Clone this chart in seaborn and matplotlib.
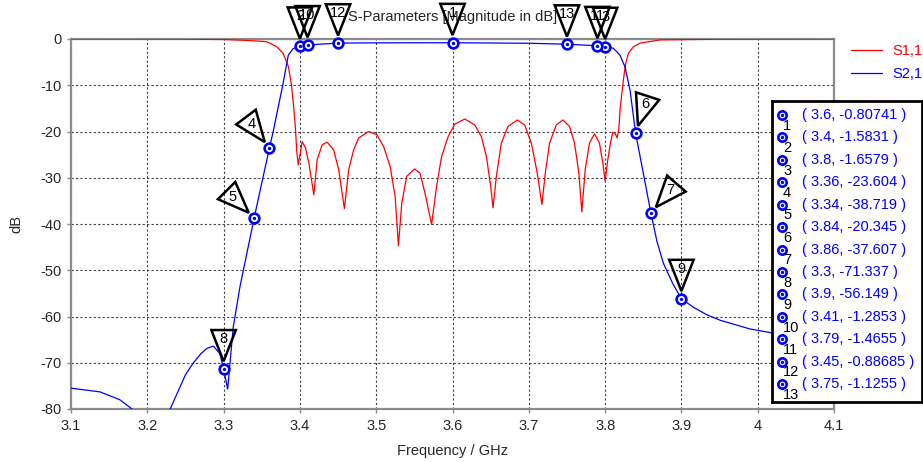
import numpy as np
import matplotlib

matplotlib.use("Agg")
import matplotlib.pyplot as plt
import seaborn as sns
from matplotlib.patches import Polygon
from matplotlib.transforms import ScaledTranslation

# S1,1 (GHz, dB)
s11_freq = [3.1, 3.2, 3.25, 3.3, 3.33, 3.3565, 3.3696, 3.378, 3.385, 3.389, 3.3922, 3.3943, 3.3957, 3.3978,
            3.403, 3.4074, 3.4117, 3.4183,
            3.4226, 3.4291, 3.4357, 3.4443, 3.4509, 3.4583,
            3.4639, 3.4704, 3.477, 3.49, 3.5009, 3.5096, 3.5183, 3.5248, 3.5291,
            3.5335, 3.54, 3.55, 3.5574, 3.5639, 3.5726,
            3.5791, 3.5857, 3.5943, 3.603, 3.6161, 3.6292, 3.6379, 3.6444, 3.6501, 3.6531,
            3.6575, 3.664, 3.6728, 3.685, 3.6946, 3.7033, 3.7111, 3.7172,
            3.7216, 3.7272, 3.736, 3.7447, 3.7534, 3.7599, 3.7656, 3.7695,
            3.7739, 3.7795, 3.7861, 3.7926, 3.797, 3.8,
            3.8035, 3.807, 3.81, 3.8131, 3.8157, 3.8179, 3.8196, 3.8239, 3.827, 3.8305, 3.837, 3.8457,
            3.872, 3.95, 4.1]
s11_db = [0.0, -0.01, -0.03, -0.12, -0.3, -0.58, -1.66, -3.1, -6.0, -10.0, -15.3, -19.6, -24.0, -27.2,
          -22.2, -23.6, -26.8, -33.7,
          -26.1, -22.9, -22.3, -24.0, -28.3, -36.7,
          -28.3, -24.0, -21.4, -20.0, -20.7, -23.2, -27.6, -34.0, -44.7,
          -35.5, -29.7, -28.1, -29.0, -33.3, -40.1,
          -31.9, -25.4, -21.1, -18.4, -17.3, -18.6, -21.1, -25.4, -31.9, -36.5,
          -29.7, -22.5, -18.9, -17.5, -18.6, -22.5, -29.0, -35.8,
          -29.0, -22.5, -18.6, -17.5, -18.9, -22.5, -29.0, -37.4,
          -28.3, -22.5, -20.5, -22.5, -26.8, -30.7,
          -26.1, -22.5, -20.2, -20.4, -21.4, -19.6, -15.3, -8.9, -5.3, -3.1, -1.7, -0.9,
          -0.2, -0.05, 0.0]

# S2,1
s21_freq = [3.1, 3.138, 3.164, 3.18, 3.205, 3.23, 3.243, 3.25, 3.26, 3.27, 3.278, 3.2865,
            3.295, 3.3, 3.3053, 3.3127, 3.3215, 3.3368, 3.34, 3.36, 3.365, 3.3775,
            3.3848, 3.391, 3.4, 3.41, 3.45, 3.5, 3.6, 3.7, 3.75, 3.79,
            3.8, 3.8108, 3.8195, 3.826, 3.8326, 3.84, 3.86, 3.868, 3.8764, 3.889, 3.9, 3.9156,
            3.933, 3.9506, 3.99, 4.0205, 4.1]
s21_db = [-75.5, -76.3, -78.0, -80.0, -84.0, -80.0, -75.2, -72.6, -70.1, -68.1, -66.9, -66.4,
          -68.0, -71.337, -75.7, -62.2, -53.5, -41.3, -38.719, -23.604, -20.0, -10.0,
          -3.5, -2.1, -1.5831, -1.2853, -0.88685, -0.83, -0.80741, -0.92, -1.1255, -1.4655,
          -1.6579, -2.0, -3.5, -6.0, -11.0, -20.345, -37.607, -43.8, -48.5, -53.0, -56.149, -58.0,
          -59.6, -60.8, -62.7, -63.6, -65.5]

# markers 1..13 on S2,1
marker_ids = list(range(1, 14))
marker_freq = [3.6, 3.4, 3.8, 3.36, 3.34, 3.84, 3.86, 3.3, 3.9, 3.41, 3.79, 3.45, 3.75]
marker_db = [-0.80741, -1.5831, -1.6579, -23.604, -38.719, -20.345, -37.607, -71.337, -56.149,
             -1.2853, -1.4655, -0.88685, -1.1255]
marker_text = ["3.6, -0.80741", "3.4, -1.5831", "3.8, -1.6579", "3.36, -23.604", "3.34, -38.719",
               "3.84, -20.345", "3.86, -37.607", "3.3, -71.337", "3.9, -56.149", "3.41, -1.2853",
               "3.79, -1.4655", "3.45, -0.88685", "3.75, -1.1255"]
# direction the flag points in (degrees, -90 = straight down)
flag_angle = [-90, -90, -90, -53, -45, -108, -131, -90, -90, -90, -90, -90, -90]

x_ticks = [3.1, 3.2, 3.3, 3.4, 3.5, 3.6, 3.7, 3.8, 3.9, 4.0, 4.1]
x_ticklabels = ["3.1", "3.2", "3.3", "3.4", "3.5", "3.6", "3.7", "3.8", "3.9", "4", "4.1"]
y_ticks = [0, -10, -20, -30, -40, -50, -60, -70, -80]

RED = "#ff0000"
BLUE = "#0000ff"
FS = 10.5


def draw_flag(ax, x, y, label, angle, gap=5.5, height=22.5, half_w=8.8):
    """Outlined triangle (in points) whose tip sits just off the data point."""
    a = np.deg2rad(angle)
    d = np.array([np.cos(a), np.sin(a)])
    n = np.array([-d[1], d[0]])
    tip = -d * gap
    base = tip - d * height
    verts = np.array([tip, base + n * half_w, base - n * half_w]) / 72.0
    tr = ax.figure.dpi_scale_trans + ScaledTranslation(x, y, ax.transData)
    ax.add_patch(Polygon(verts, closed=True, fill=False, ec="black", lw=1.8,
                         transform=tr, clip_on=False, zorder=6))
    c = base + d * height * 0.28
    ax.annotate(label, xy=(x, y), xytext=(c[0], c[1]), textcoords="offset points",
                ha="center", va="center", fontsize=FS, color="black",
                annotation_clip=False, zorder=7)


sns.set_style("white")
plt.rcParams["font.family"] = ["Liberation Sans", "DejaVu Sans"]
plt.rcParams["axes.unicode_minus"] = False

fig = plt.figure(figsize=(9.23, 4.62), dpi=100)
ax = fig.add_axes([71 / 923, 1 - 409 / 462, 763 / 923, 370 / 462])

sns.lineplot(x=s11_freq, y=s11_db, color=RED, lw=0.9, label="S1,1", ax=ax, zorder=3)
sns.lineplot(x=s21_freq, y=s21_db, color=BLUE, lw=0.9, label="S2,1", ax=ax, zorder=3)

ax.set_xlim(3.1, 4.1)
ax.set_ylim(-80, 0)
ax.set_xticks(x_ticks)
ax.set_xticklabels(x_ticklabels)
ax.set_yticks(y_ticks)
ax.grid(True, color="#404040", lw=0.8, ls=(0, (2, 2)))
for sp in ax.spines.values():
    sp.set_color("#8c8c8c")
    sp.set_linewidth(1.6)
ax.tick_params(axis="both", direction="out", length=3, width=1, color="#8c8c8c",
               labelsize=FS, pad=4, bottom=True, left=True)

ax.set_title("S-Parameters [Magnitude in dB]", fontsize=FS, pad=13)
ax.set_xlabel("Frequency / GHz", fontsize=FS, labelpad=8)
ax.set_ylabel("dB", fontsize=FS, labelpad=12)

# markers on the transmission curve
ax.plot(marker_freq, marker_db, "o", ms=7, mfc="white", mec=BLUE, mew=1.9,
        clip_on=False, zorder=5)
ax.plot(marker_freq, marker_db, ".", ms=2.8, color=BLUE, clip_on=False, zorder=5)
for mid, fx, fy, ang in zip(marker_ids, marker_freq, marker_db, flag_angle):
    draw_flag(ax, fx, fy, str(mid), ang)

leg = ax.legend(loc="upper left", bbox_to_anchor=(851 / 923, 1 - 44 / 462),
                bbox_transform=fig.transFigure, frameon=False, fontsize=FS,
                handlelength=2.15, handletextpad=0.7, labelspacing=0.62,
                borderpad=0, borderaxespad=0, labelcolor="linecolor")

# marker readout box
tab = fig.add_axes([772 / 923, 1 - 402 / 462, 150 / 923, 301 / 462], zorder=10)
tab.set_xlim(0, 150)
tab.set_ylim(12.8, -0.625)
tab.set_xticks([])
tab.set_yticks([])
tab.set_facecolor("white")
for sp in tab.spines.values():
    sp.set_color("black")
    sp.set_linewidth(2)
rows = np.arange(len(marker_ids))
tab.plot([10] * len(rows), rows, "o", ms=6, mfc="white", mec=BLUE, mew=1.9)
tab.plot([10] * len(rows), rows, ".", ms=2.8, color=BLUE)
for r, mid, txt in zip(rows, marker_ids, marker_text):
    tab.text(11, r + 0.48, str(mid), fontsize=FS, color="black", ha="left", va="center")
    tab.text(29.5, r, "( " + txt + " )", fontsize=FS, color=BLUE, ha="left", va="center")

fig.savefig("out.png", dpi=100)
plt.close(fig)
